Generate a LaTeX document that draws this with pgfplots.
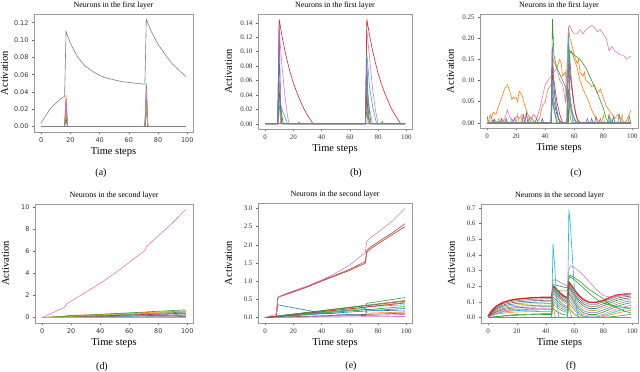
\documentclass[border=0pt]{standalone}
\usepackage{pgfplots}
\pgfplotsset{compat=1.18}
\usepackage{fontspec}
\setmainfont{Liberation Serif}
\newfontfamily\dejavu{DejaVu Sans}
\definecolor{C0}{HTML}{1F77B4}
\definecolor{C1}{HTML}{FF7F0E}
\definecolor{C2}{HTML}{2CA02C}
\definecolor{C3}{HTML}{D62728}
\definecolor{C4}{HTML}{9467BD}
\definecolor{C5}{HTML}{8C564B}
\definecolor{C6}{HTML}{E377C2}
\definecolor{C7}{HTML}{7F7F7F}
\definecolor{C8}{HTML}{BCBD22}
\definecolor{C9}{HTML}{17BECF}
\pgfplotsset{
 panel/.style={
  scale only axis, anchor=north west,
  xmin=-4.95, xmax=103.95,
  xtick={0,20,40,60,80,100},
  tick align=outside, tick pos=left,
  major tick length=2bp,
  axis line style={black!40, line width=0.9bp},
  tick style={black!60, line width=0.5bp},
  ticklabel style={font=\fontsize{7}{8}\selectfont, text=black!80},
  /pgf/number format/assume math mode=true,
  every axis title/.style={at={(axis description cs:0.5,1)}, anchor=center, yshift=8.5bp, font=\fontsize{8}{9}\selectfont},
  xlabel={Time steps}, ylabel={Activation},
  every axis x label/.style={at={(axis description cs:0.5,0)}, anchor=center, yshift=-20bp, font=\fontsize{10.5}{12}\selectfont},
  every axis y label/.style={at={(axis description cs:0,0.5)}, anchor=center, xshift=-29.5bp, rotate=90, font=\fontsize{10.5}{12}\selectfont},
  every axis plot/.append style={line width=0.6bp, no markers},
 },
}
\begin{document}
\begin{tikzpicture}
\useasboundingbox (0,0) rectangle (640bp,-372bp);
% (a)
\begin{axis}[panel, at={(34bp,-14bp)}, width=159bp, height=118bp,
  ymin=-0.0062, ymax=0.130, ytick={0,0.02,0.04,0.06,0.08,0.10,0.12},
  yticklabel style={/pgf/number format/.cd, fixed, fixed zerofill, precision=2},
  ticklabel style={font=\dejavu\fontsize{6.5}{8}\selectfont},
  title={Neurons in the first layer}]
\addplot[C0] coordinates {(0,0)(16,0)(17,0.012)(18,0)(71,0)(72,0.02)(73,0)(99,0)};
\addplot[C1] coordinates {(0,0)(16,0)(17,0.037)(18,0)(71,0)(72,0.035)(73,0)(99,0)};
\addplot[C3] coordinates {(0,0)(16,0)(17,0.028)(18,0)(71,0)(72,0.04)(73,0)(99,0)};
\addplot[C4] coordinates {(0,0)(16,0)(17,0.02)(18,0)(71,0)(72,0.03)(73,0)(99,0)};
\addplot[C8] coordinates {(0,0)(16,0)(17,0.015)(18,0)(71,0)(72,0.025)(73,0)(99,0)};
\addplot[C2] coordinates {(0,0)(16,0)(17,0.01)(18,0)(71,0)(72,0.05)(73,0)(99,0)};
\addplot[C6] coordinates {(0,0)(16,0)(17,0.033)(18,0)(71,0)(72,0.045)(73,0)(99,0)};
\addplot[C7] coordinates {(0,0.004)(2,0.010)(4,0.015)(6,0.020)(8,0.024)(10,0.027)(12,0.030)(14,0.033)(16,0.035)(17,0.11)(20,0.096)(25,0.080)(30,0.070)(35,0.064)(40,0.059)(45,0.056)(50,0.054)(55,0.052)(60,0.051)(65,0.050)(71,0.049)(72,0.124)(75,0.111)(80,0.095)(85,0.083)(90,0.072)(95,0.064)(99,0.058)};
\addplot[C7] coordinates {(0,0.0005)(99,0.0005)};
\end{axis}
% (b)
\begin{axis}[panel, at={(258bp,-14bp)}, width=154bp, height=115bp,
  ymin=-0.00725, ymax=0.15225, ytick={0,0.02,0.04,0.06,0.08,0.10,0.12,0.14},
  yticklabel style={/pgf/number format/.cd, fixed, fixed zerofill, precision=2},
  title={Neurons in the first layer}]
\addplot[C2] coordinates {(0,0)(9,0)(10,0.03)(11,0.005)(12,0)(23,0)(24,0.002)(25,0)(71,0)(72,0.02)(73,0)(82,0)(83,0.003)(84,0)(99,0)};
\addplot[C1] coordinates {(0,0)(9,0)(10,0.06)(11,0.01)(12,0)(71,0)(72,0.045)(73,0.01)(74,0)(99,0)};
\addplot[C8] coordinates {(0,0)(9,0)(10,0.05)(11,0)(71,0)(72,0.05)(74,0.02)(76,0)(99,0)};
\addplot[C5] coordinates {(0,0)(9,0)(10,0.045)(12,0.01)(13,0)(71,0)(72,0.04)(73,0.01)(74,0)(99,0)};
\addplot[C6] coordinates {(0,0)(9,0)(10,0.13)(12,0.08)(14,0.04)(16,0.01)(17,0)(71,0)(72,0.13)(74,0.09)(76,0.05)(78,0.02)(80,0)(99,0)};
\addplot[C3] coordinates {(0,0)(9,0)(10,0.145)(12,0.122)(14,0.102)(16,0.085)(18,0.07)(20,0.057)(22,0.046)(24,0.036)(26,0.027)(28,0.019)(30,0.012)(32,0.006)(34,0)(71,0)(72,0.145)(74,0.122)(76,0.102)(78,0.085)(80,0.07)(82,0.057)(84,0.046)(86,0.036)(88,0.027)(90,0.019)(92,0.012)(94,0.006)(96,0)(99,0)};
\addplot[C9] coordinates {(0,0)(9,0)(10,0.035)(12,0.02)(14,0.01)(16,0)(71,0)(72,0.098)(74,0.05)(76,0.025)(78,0.008)(79,0)(99,0)};
\addplot[C0] coordinates {(0,0)(9,0)(10,0.1)(11,0.02)(12,0)(71,0)(72,0.078)(73,0.03)(75,0)(99,0)};
\addplot[C4] coordinates {(0,0)(9,0)(10,0.14)(11,0.03)(12,0)(71,0)(72,0.09)(73,0.02)(74,0)(99,0)};
\addplot[C7] coordinates {(0,0)(99,0)};
\end{axis}
% (c)
\begin{axis}[panel, at={(480bp,-14bp)}, width=158bp, height=114bp,
  ymin=-0.01225, ymax=0.257, ytick={0,0.05,0.10,0.15,0.20,0.25},
  yticklabel style={/pgf/number format/.cd, fixed, fixed zerofill, precision=2},
  title={Neurons in the first layer}]
\addplot[C0] coordinates {(0,0.015)(1,0)(4,0)(5,0.008)(6,0)(24,0)(25,0.018)(26,0)(33,0)(34,0.012)(35,0)(44,0)(45,0.09)(46,0.05)(48,0.02)(50,0.005)(52,0)(55,0)(56,0.07)(58,0.03)(60,0.01)(62,0)(71,0)(72,0.01)(73,0)(86,0)(87,0.015)(88,0)(99,0)};
\addplot[C8] coordinates {(0,0)(7,0)(8,0.01)(9,0)(20,0)(21,0.02)(22,0)(30,0)(31,0.015)(32,0)(44,0)(45,0.05)(47,0.02)(49,0)(55,0)(56,0.06)(58,0.02)(60,0)(79,0)(80,0.02)(81,0)(92,0)(93,0.02)(94,0)(99,0)};
\addplot[C5] coordinates {(0,0)(12,0)(13,0.01)(14,0)(26,0)(27,0.025)(28,0)(37,0)(38,0.01)(39,0)(44,0)(45,0.12)(47,0.05)(49,0.01)(51,0)(55,0)(56,0.2)(58,0.1)(60,0.04)(62,0.01)(64,0)(74,0)(75,0.015)(76,0)(83,0)(84,0.02)(85,0)(99,0)};
\addplot[C3] coordinates {(0,0)(9,0)(10,0.01)(11,0)(44,0)(45,0.14)(46,0.1)(48,0.05)(50,0.02)(52,0)(55,0)(56,0.17)(57,0.12)(59,0.06)(61,0.02)(63,0)(99,0)};
\addplot[C7] coordinates {(0,0)(16,0)(17,0.01)(18,0)(28,0)(29,0.012)(30,0)(44,0)(45,0.06)(46,0.03)(48,0)(55,0)(56,0.08)(57,0.02)(58,0)(77,0)(78,0.01)(79,0)(97,0)(98,0.015)(99,0)};
\addplot[C1] coordinates {(0,0.005)(23,0)(24,0.015)(25,0)(55,0)(56,0.16)(58,0.17)(60,0.15)(62,0.13)(64,0.10)(66,0.08)(70,0.05)(72,0.03)(75,0.01)(78,0)(99,0)};
\addplot[C1] coordinates {(0,0)(1,0)(2,0.02)(3,0.01)(4,0.025)(6,0.02)(8,0.04)(10,0.06)(12,0.08)(14,0.09)(16,0.07)(17,0.055)(18,0.06)(19,0.058)(20,0.06)(21,0.05)(22,0.075)(24,0.065)(26,0.04)(28,0.02)(30,0.01)(32,0.005)(34,0)(36,0.01)(38,0.04)(40,0.05)(42,0.08)(44,0.09)(45,0.155)(46,0.145)(48,0.13)(50,0.15)(51,0.14)(52,0.11)(54,0.12)(55,0.05)(56,0.225)(57,0.2)(58,0.19)(60,0.16)(62,0.14)(63,0.15)(64,0.12)(66,0.11)(67,0.12)(68,0.1)(70,0.095)(72,0.085)(74,0.09)(76,0.07)(78,0.08)(80,0.06)(82,0.04)(84,0.03)(86,0.02)(88,0.01)(90,0.02)(92,0.01)(94,0)(96,0.005)(98,0.02)(99,0.03)};
\addplot[C6] coordinates {(0,0)(10,0)(12,0.01)(14,0.03)(16,0.01)(18,0.005)(20,0.015)(22,0.01)(24,0.02)(26,0.01)(28,0.015)(30,0.01)(32,0.02)(34,0.01)(36,0.03)(38,0.06)(40,0.09)(42,0.1)(44,0.11)(46,0.12)(48,0.13)(50,0.1)(52,0.09)(54,0.05)(56,0.225)(57,0.23)(58,0.22)(60,0.21)(62,0.21)(64,0.22)(66,0.21)(68,0.22)(70,0.225)(72,0.23)(74,0.225)(76,0.215)(78,0.22)(80,0.21)(82,0.2)(84,0.17)(86,0.18)(88,0.17)(90,0.165)(92,0.16)(94,0.16)(96,0.15)(98,0.155)(99,0.157)};
\addplot[C2] coordinates {(0,0)(44,0)(45,0.245)(46,0.16)(48,0.13)(50,0.115)(52,0.1)(54,0.085)(55,0.06)(56,0)(57,0.17)(60,0.16)(64,0.15)(68,0.13)(72,0.1)(76,0.07)(80,0.035)(82,0.01)(84,0)(99,0)};
\addplot[C9] coordinates {(0,0)(44,0)(45,0.1)(46,0.04)(48,0)(55,0)(56,0.21)(57,0.07)(59,0)(84,0)(85,0.01)(86,0)(99,0)};
\addplot[C4] coordinates {(0,0)(3,0)(4,0.008)(5,0)(18,0)(19,0.012)(20,0)(44,0)(45,0.18)(46,0.08)(48,0.03)(50,0)(55,0)(56,0.14)(57,0.06)(59,0.02)(61,0)(68,0)(69,0.01)(70,0)(90,0)(91,0.02)(92,0)(99,0)};
\addplot[C7] coordinates {(0,0)(99,0)};
\end{axis}
% (d)
\begin{axis}[panel, at={(35bp,-204bp)}, width=158bp, height=119bp,
  ymin=-0.49, ymax=10.29, ytick={0,2,4,6,8,10},
  ticklabel style={font=\dejavu\fontsize{6.5}{8}\selectfont},
  title={Neurons in the second layer}]
\addplot[C7] coordinates {(0,0)(99,0.1)};
\addplot[C9] coordinates {(0,0)(99,0.2)};
\addplot[C5] coordinates {(0,0)(99,0.25)};
\addplot[C4] coordinates {(0,0)(99,0.35)};
\addplot[C3] coordinates {(0,0)(99,0.4)};
\addplot[C0] coordinates {(0,0)(99,0.5)};
\addplot[C8] coordinates {(0,0)(20,0.1)(99,0.55)};
\addplot[C1] coordinates {(0,0)(15,0.12)(17,0.18)(40,0.28)(70,0.45)(99,0.6)};
\addplot[C2] coordinates {(0,0)(15,0.1)(17,0.15)(40,0.3)(71,0.5)(72,0.52)(99,0.7)};
\addplot[C6] coordinates {(0,0)(99,0.05)};
\addplot[C8] coordinates {(0,0)(99,0)};
\addplot[C6] coordinates {(0,0)(15,0.9)(16,1.05)(17,1.25)(20,1.5)(30,2.3)(40,3.1)(50,4.0)(60,5.0)(70,6.0)(71,6.1)(72,6.45)(80,7.4)(90,8.6)(99,9.8)};
\end{axis}
% (e)
\begin{axis}[panel, at={(258bp,-203bp)}, width=154bp, height=120bp,
  ymin=-0.15, ymax=3.15, ytick={0,0.5,1,1.5,2,2.5,3},
  yticklabel style={/pgf/number format/.cd, fixed, fixed zerofill, precision=1},
  title={Neurons in the second layer}]
\addplot[C4] coordinates {(0,0)(99,0.08)};
\addplot[C5] coordinates {(0,0)(99,0.12)};
\addplot[C1] coordinates {(0,0)(60,0.2)(71,0.22)(72,0.12)(99,0.15)};
\addplot[C8] coordinates {(0,0)(71,0.28)(72,0.3)(99,0.42)};
\addplot[C9] coordinates {(0,0)(71,0.25)(72,0.3)(99,0.35)};
\addplot[C0] coordinates {(0,0)(99,0.25)};
\addplot[C2] coordinates {(0,0)(99,0.3)};
\addplot[C3] coordinates {(0,0)(99,0.4)};
\addplot[C7] coordinates {(0,0)(99,0.47)};
\addplot[C5] coordinates {(0,0)(99,0.45)};
\addplot[C2] coordinates {(0,0)(71,0.33)(72,0.39)(99,0.55)};
\addplot[C6] coordinates {(0,0)(99,0.03)};
\addplot[C0] coordinates {(0,0)(8,0.03)(9,0.35)(20,0.27)(30,0.2)(40,0.12)(50,0.1)(60,0.08)(71,0.06)(72,0.22)(80,0.2)(90,0.19)(99,0.18)};
\addplot[C5] coordinates {(0,0)(8,0.03)(9,0.55)(10,0.58)(20,0.72)(30,0.86)(40,1.02)(50,1.17)(60,1.33)(70,1.52)(71,1.55)(72,1.85)(75,1.95)(80,2.08)(90,2.33)(99,2.58)};
\addplot[C3] coordinates {(0,0)(8,0.03)(9,0.53)(10,0.57)(20,0.7)(30,0.84)(40,1.0)(50,1.15)(60,1.3)(70,1.48)(71,1.5)(72,1.8)(75,1.9)(80,2.03)(90,2.28)(99,2.5)};
\addplot[C6] coordinates {(0,0)(7,0.08)(8,0.1)(9,0.5)(10,0.57)(15,0.66)(20,0.73)(30,0.87)(40,1.03)(50,1.22)(60,1.45)(70,1.76)(71,1.8)(72,2.1)(74,2.18)(80,2.35)(90,2.65)(99,3.0)};
\end{axis}
% (f)
\begin{axis}[panel, at={(481bp,-204bp)}, width=157bp, height=119bp,
  ymin=-0.0345, ymax=0.7245, ytick={0,0.1,0.2,0.3,0.4,0.5,0.6,0.7},
  yticklabel style={/pgf/number format/.cd, fixed, fixed zerofill, precision=1},
  title={Neurons in the second layer}]
\addplot[C4] coordinates {(0,0)(99,0)};
\addplot[C2] coordinates {(0,0)(10,0.01)(20,0.015)(30,0.018)(40,0.02)(44,0.02)(45,0.06)(48,0.035)(52,0.02)(55,0.015)(56,0.06)(60,0.02)(63,0.005)(66,0)(80,0)(90,0.01)(99,0.02)};
\addplot[C1] coordinates {(0,0.002)(3,0.013)(6,0.022)(10,0.028)(15,0.033)(20,0.036)(30,0.038)(40,0.04)(44,0.04)(45,0.085)(46,0.08)(48,0.063)(50,0.05)(52,0.041)(55,0.033)(56,0.09)(57,0.08)(60,0.045)(63,0.02)(66,0.005)(70,0)(75,0)(80,0.006)(85,0.018)(90,0.03)(95,0.04)(99,0.046)};
\addplot[C9] coordinates {(0,0.003)(3,0.017)(6,0.027)(10,0.035)(15,0.041)(20,0.045)(30,0.048)(40,0.05)(44,0.05)(45,0.1)(46,0.095)(48,0.077)(50,0.062)(52,0.052)(55,0.042)(56,0.11)(57,0.1)(60,0.06)(63,0.03)(66,0.01)(70,0.004)(75,0.005)(80,0.013)(85,0.028)(90,0.043)(95,0.055)(99,0.062)};
\addplot[C6] coordinates {(0,0.004)(3,0.02)(6,0.033)(10,0.043)(15,0.05)(20,0.054)(30,0.058)(40,0.06)(44,0.06)(45,0.115)(46,0.11)(48,0.09)(50,0.074)(52,0.062)(55,0.05)(56,0.13)(57,0.12)(60,0.075)(63,0.042)(66,0.02)(70,0.01)(75,0.01)(80,0.022)(85,0.04)(90,0.057)(95,0.07)(99,0.078)};
\addplot[C2] coordinates {(0,0.004)(3,0.024)(6,0.038)(10,0.05)(15,0.058)(20,0.063)(30,0.067)(40,0.07)(44,0.07)(45,0.13)(46,0.125)(48,0.105)(50,0.087)(52,0.073)(55,0.06)(56,0.15)(57,0.138)(60,0.09)(63,0.055)(66,0.032)(70,0.02)(75,0.02)(80,0.035)(85,0.055)(90,0.073)(95,0.087)(99,0.095)};
\addplot[C4] coordinates {(0,0.005)(3,0.027)(6,0.044)(10,0.057)(15,0.066)(20,0.072)(30,0.077)(40,0.08)(44,0.08)(45,0.15)(46,0.145)(48,0.122)(50,0.1)(52,0.085)(55,0.07)(56,0.165)(57,0.152)(60,0.105)(63,0.07)(66,0.045)(70,0.032)(75,0.032)(80,0.048)(85,0.068)(90,0.087)(95,0.1)(99,0.107)};
\addplot[C8] coordinates {(0,0.006)(3,0.03)(6,0.05)(10,0.064)(15,0.075)(20,0.081)(30,0.087)(40,0.09)(44,0.09)(45,0.16)(46,0.155)(48,0.135)(50,0.115)(52,0.1)(55,0.085)(56,0.18)(57,0.168)(60,0.12)(63,0.085)(66,0.06)(70,0.045)(75,0.045)(80,0.062)(85,0.082)(90,0.1)(95,0.112)(99,0.118)};
\addplot[C0] coordinates {(0,0.007)(3,0.035)(6,0.056)(10,0.072)(15,0.083)(20,0.09)(30,0.097)(40,0.1)(44,0.1)(45,0.17)(46,0.165)(48,0.145)(50,0.125)(52,0.11)(55,0.095)(56,0.19)(57,0.18)(60,0.135)(63,0.1)(66,0.075)(70,0.058)(75,0.058)(80,0.075)(85,0.095)(90,0.112)(95,0.122)(99,0.127)};
\addplot[C5] coordinates {(0,0.008)(3,0.04)(6,0.063)(10,0.08)(15,0.092)(20,0.1)(30,0.107)(40,0.11)(44,0.11)(45,0.18)(46,0.175)(48,0.155)(50,0.135)(52,0.12)(55,0.105)(56,0.2)(57,0.19)(60,0.148)(63,0.112)(66,0.088)(70,0.072)(75,0.072)(80,0.088)(85,0.108)(90,0.125)(95,0.133)(99,0.137)};
\addplot[C7] coordinates {(0,0.01)(3,0.045)(6,0.07)(10,0.088)(15,0.1)(20,0.108)(30,0.116)(40,0.12)(44,0.12)(45,0.19)(46,0.185)(48,0.165)(50,0.145)(52,0.13)(55,0.115)(56,0.21)(57,0.2)(60,0.16)(63,0.125)(66,0.1)(70,0.085)(75,0.085)(80,0.1)(85,0.12)(90,0.135)(95,0.142)(99,0.145)};
\addplot[C3, line width=1.4bp] coordinates {(0,0.01)(3,0.05)(6,0.075)(10,0.095)(15,0.11)(20,0.118)(30,0.126)(40,0.13)(44,0.13)(45,0.2)(46,0.195)(48,0.175)(50,0.155)(52,0.14)(55,0.125)(56,0.225)(57,0.215)(60,0.175)(63,0.14)(66,0.115)(70,0.098)(75,0.098)(80,0.11)(85,0.13)(90,0.145)(95,0.15)(99,0.153)};
\addplot[C1] coordinates {(0,0)(44,0)(45,0.1)(46,0.03)(47,0)(55,0)(56,0.12)(57,0.03)(58,0)(99,0)};
\addplot[C2] coordinates {(0,0)(44,0)(45,0.18)(50,0.17)(55,0.17)(56,0.25)(57,0.26)(60,0.24)(66,0.19)(72,0.14)(78,0.1)(85,0.08)(90,0.07)(99,0.06)};
\addplot[C2] coordinates {(0,0)(20,0.02)(40,0.025)(44,0.025)(45,0.21)(48,0.205)(52,0.195)(55,0.19)(56,0.26)(57,0.27)(60,0.255)(65,0.22)(70,0.18)(75,0.15)(80,0.12)(85,0.08)(90,0.06)(95,0.04)(99,0.03)};
\addplot[C6] coordinates {(0,0.004)(10,0.04)(20,0.05)(40,0.055)(44,0.055)(45,0.24)(47,0.24)(50,0.225)(55,0.2)(56,0.3)(57,0.33)(60,0.32)(65,0.28)(70,0.23)(75,0.18)(80,0.14)(85,0.13)(90,0.14)(95,0.15)(99,0.155)};
\addplot[C9] coordinates {(0,0)(44,0)(45,0.47)(46,0.35)(47,0.2)(48,0.08)(49,0)(55,0)(56,0.69)(57,0.6)(58,0.45)(59,0.3)(60,0.17)(61,0.08)(62,0.02)(63,0)(99,0)};
\end{axis}
\node[font=\fontsize{10}{12}\selectfont] at (101bp,-173bp) {(a)};
\node[font=\fontsize{10}{12}\selectfont] at (356bp,-173bp) {(b)};
\node[font=\fontsize{10}{12}\selectfont] at (576bp,-173bp) {(c)};
\node[font=\fontsize{10}{12}\selectfont] at (102bp,-367bp) {(d)};
\node[font=\fontsize{10}{12}\selectfont] at (351bp,-366bp) {(e)};
\node[font=\fontsize{10}{12}\selectfont] at (571bp,-366bp) {(f)};
\end{tikzpicture}
\end{document}
